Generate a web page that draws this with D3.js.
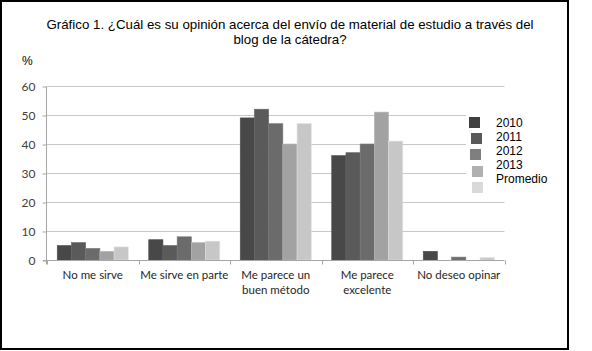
<!DOCTYPE html>
<html>
<head>
<meta charset="utf-8">
<script src="https://cdn.jsdelivr.net/npm/d3@7"></script>
<style>
  html, body { margin: 0; padding: 0; background: #fff; }
  svg { display: block; }
</style>
</head>
<body>
<script>
// ---- data ----
const categories = ["No me sirve", "Me sirve en parte", "Me parece un buen método", "Me parece excelente", "No deseo opinar"];
const categoryLabelLines = [["No me sirve"], ["Me sirve en parte"], ["Me parece un", "buen método"], ["Me parece", "excelente"], ["No deseo opinar"]];
const seriesNames = ["2010", "2011", "2012", "2013", "Promedio"];
const values2010 = [5, 7, 49, 36, 3];
const values2011 = [6, 5, 52, 37, 0];
const values2012 = [4, 8, 47, 40, 1];
const values2013 = [3, 6, 40, 51, 0];
const valuesPromedio = [4.5, 6.5, 47, 41, 0.8];
const yTicks = [0, 10, 20, 30, 40, 50, 60];
const titleLines = ["Gráfico 1. ¿Cuál es su opinión acerca del envío de material de estudio a través del", "blog de la cátedra?"];
const yUnit = "%";

const seriesValues = [values2010, values2011, values2012, values2013, valuesPromedio];
const barColors = ["#484848", "#5a5a5a", "#6b6b6b", "#a2a2a2", "#c7c7c7"];
const legendColors = ["#404040", "#595959", "#7f7f7f", "#b0b0b0", "#d9d9d9"];

const W = 592, H = 351;
const svg = d3.select("body").append("svg").attr("width", W).attr("height", H);

// outer frame
svg.append("rect").attr("x", 1).attr("y", 1).attr("width", 567).attr("height", 348)
  .attr("fill", "#fff").attr("stroke", "#000").attr("stroke-width", 2);

const x = d3.scaleBand().domain(categories).range([47, 504.5]).paddingInner(0).paddingOuter(0);
const xs = d3.scaleBand().domain(seriesNames).range([0, x.bandwidth()]).paddingInner(0).paddingOuter(0.72);
const y = d3.scaleLinear().domain([0, 60]).range([260, 86]);

// gridlines
svg.append("g").selectAll("line").data(yTicks.filter(d => d > 0)).join("line")
  .attr("x1", 47).attr("x2", 504.5)
  .attr("y1", d => Math.round(y(d)) + 0.5).attr("y2", d => Math.round(y(d)) + 0.5)
  .attr("stroke", "#c8c8c8").attr("stroke-width", 1);

// y axis
const yAxis = d3.axisLeft(y).tickValues(yTicks).tickSize(4).tickPadding(7);
const gy = svg.append("g").attr("transform", "translate(46.5,0.5)").call(yAxis);
gy.select(".domain").attr("stroke", "#a6a6a6").attr("d", "M-0,86V264");
gy.selectAll(".tick line").attr("stroke", "#a6a6a6");
gy.selectAll(".tick text").attr("fill", "#404040").style("font-family", "Lato, 'Open Sans', sans-serif").style("font-size", "12px");

// bars
const gb = svg.append("g");
seriesNames.forEach((s, si) => {
  gb.append("g").selectAll("rect").data(categories).join("rect")
    .attr("x", (c) => x(c) + xs(s))
    .attr("y", (c, i) => y(seriesValues[si][i]))
    .attr("width", xs.bandwidth())
    .attr("height", (c, i) => y(0) - y(seriesValues[si][i]))
    .attr("fill", barColors[si])
    .attr("stroke", d3.color(barColors[si]).brighter(0.35))
    .attr("stroke-width", 0.6);
});

// x axis
const xAxisG = svg.append("g").attr("transform", "translate(0,260.5)");
xAxisG.append("line").attr("x1", 43).attr("x2", 504.5).attr("y1", 0).attr("y2", 0).attr("stroke", "#a6a6a6");
const boundaries = categories.map(c => x(c)).concat([x.range()[1]]);
xAxisG.selectAll("line.tk").data(boundaries).join("line").attr("class", "tk")
  .attr("x1", d => Math.round(d) + 0.5).attr("x2", d => Math.round(d) + 0.5)
  .attr("y1", 0).attr("y2", 4).attr("stroke", "#a6a6a6");
const xl = xAxisG.selectAll("text.cat").data(categories).join("text").attr("class", "cat")
  .attr("x", c => x(c) + x.bandwidth() / 2)
  .attr("y", 18)
  .attr("text-anchor", "middle")
  .attr("fill", "#262626")
  .style("font-family", "Lato, 'Open Sans', sans-serif").style("font-size", "11.5px");
xl.each(function(c, i) {
  d3.select(this).selectAll("tspan").data(categoryLabelLines[i]).join("tspan")
    .attr("x", x(c) + x.bandwidth() / 2)
    .attr("dy", (d, j) => j === 0 ? 0 : 15.5)
    .text(d => d);
});

// title
svg.append("g").selectAll("text").data(titleLines).join("text")
  .attr("x", 290).attr("y", (d, i) => 29 + i * 14.5)
  .attr("text-anchor", "middle")
  .attr("fill", "#000")
  .style("font-family", "'Liberation Sans', Arial, sans-serif").style("font-size", "13.3px")
  .text(d => d);

// y unit
svg.append("text").attr("x", 22).attr("y", 65).text(yUnit)
  .style("font-family", "'Liberation Sans', Arial, sans-serif").style("font-size", "12px");

// legend
const lg = svg.append("g");
lg.append("rect").attr("x", 466).attr("y", 108).attr("width", 90).attr("height", 92).attr("fill", "#fff");
const sqX = [469, 471, 470, 472, 472];
const sqY = [117, 133, 149, 166, 182];
lg.selectAll("rect.sq").data(seriesNames).join("rect").attr("class", "sq")
  .attr("x", (d, i) => sqX[i]).attr("y", (d, i) => sqY[i])
  .attr("width", 11).attr("height", 11)
  .attr("fill", (d, i) => legendColors[i]);
lg.selectAll("text").data(seriesNames).join("text")
  .attr("x", 496).attr("y", (d, i) => 126.5 + i * 14)
  .attr("fill", "#000")
  .style("font-family", "'Liberation Sans', Arial, sans-serif").style("font-size", "12px")
  .text(d => d);
</script>
</body>
</html>
